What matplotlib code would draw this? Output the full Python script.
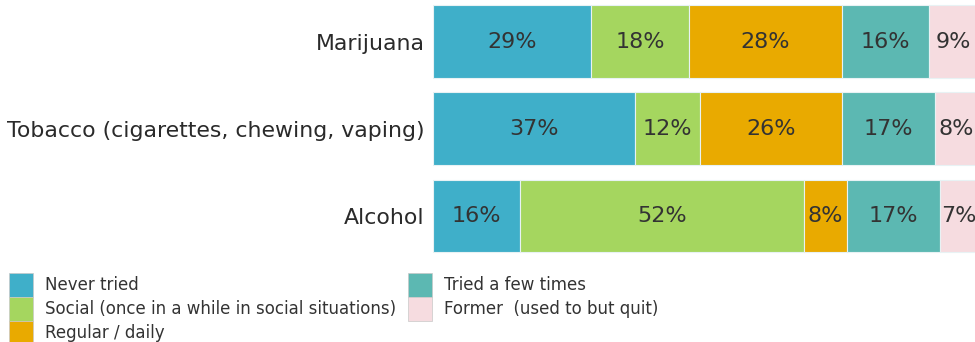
import matplotlib
matplotlib.use("Agg")
import matplotlib.pyplot as plt
from matplotlib.patches import Patch
import numpy as np

# data
categories = ["Marijuana", "Tobacco (cigarettes, chewing, vaping)", "Alcohol"]
series_names = ["Never tried", "Social (once in a while in social situations)",
                "Regular / daily", "Tried a few times", "Former  (used to but quit)"]
never_tried = [29, 37, 16]
social = [18, 12, 52]
regular = [28, 26, 8]
tried_few = [16, 17, 17]
former = [9, 8, 7]
colors = ["#3FAFC9", "#A5D65F", "#E9AA00", "#5CB8B2", "#F6DCE0"]

plt.rcParams['font.family'] = ['DejaVu Sans']

W, H = 975, 342
fig = plt.figure(figsize=(W / 100, H / 100), dpi=100)
ax = fig.add_axes([433 / W, 1 - 258 / H, 542 / W, 258 / H])

y = np.arange(len(categories))
left = np.zeros(len(categories))
for name, vals, col in zip(series_names, [never_tried, social, regular, tried_few, former], colors):
    bars = ax.barh(y, vals, left=left, height=0.835, color=col, edgecolor="#e8f2f4", linewidth=0.8)
    for b, v in zip(bars, vals):
        ax.text(b.get_x() + b.get_width() / 2, b.get_y() + b.get_height() / 2, f"{v}%",
                ha="center", va="center", fontsize=16, color="#333333")
    left += np.array(vals)

ax.set_xlim(0, 99.4)
ax.set_ylim(2.481, -0.476)
ax.set_yticks(y)
ax.set_yticklabels(categories, fontsize=15.8, color="#2a2a2a")
ax.tick_params(axis="y", length=0, pad=5.8)
ax.set_xticks([])
for s in ax.spines.values():
    s.set_visible(False)

handles = [Patch(facecolor=c, edgecolor="#c8c8c8", linewidth=0.5) for c in colors]
fig.legend(handles, series_names, ncol=2, loc="upper left",
           bbox_to_anchor=(9 / W, 1 - 273 / H), frameon=False, fontsize=12,
           handlelength=1.44, handleheight=1.83, labelspacing=0, handletextpad=0.72,
           columnspacing=0.72, borderpad=0, borderaxespad=0, labelcolor="#333333")

fig.savefig("out.png", dpi=100)
